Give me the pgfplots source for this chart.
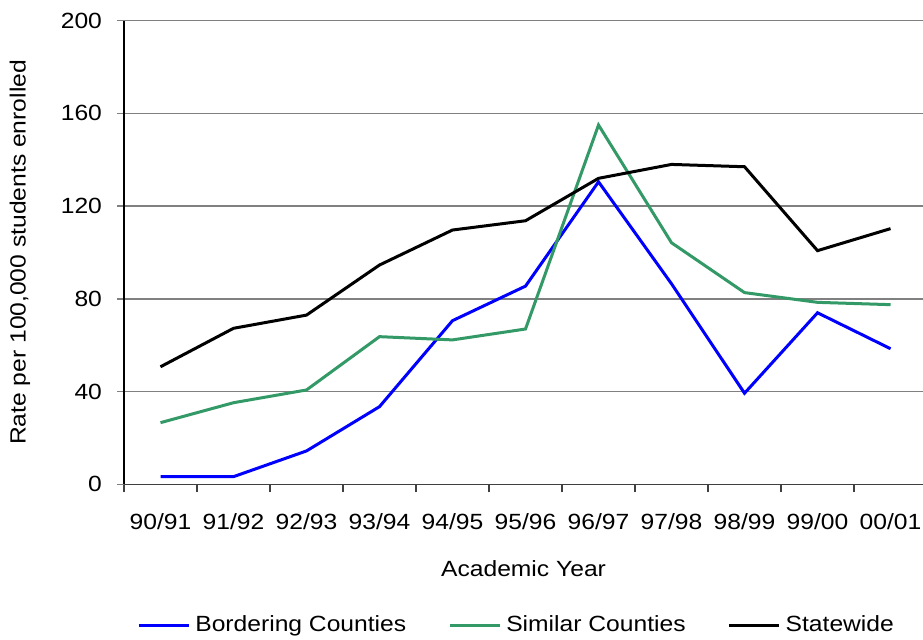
\documentclass[border=0pt]{standalone}
\usepackage{pgfplots}
\pgfplotsset{compat=1.18}
\usepackage{fontspec}
\setmainfont[FakeStretch=1.12]{Liberation Sans}
\definecolor{simgreen}{RGB}{51,153,102}
\definecolor{gridgray}{RGB}{128,128,128}
\begin{document}
\begin{tikzpicture}
\begin{axis}[
  scale only axis,
  width=399.5pt, height=231.8pt,
  xmin=-0.5, xmax=10.445,
  ymin=0, ymax=200,
  axis x line*=bottom,
  axis y line*=left,
  x axis line style={draw=black!75, line width=0.8pt},
  y axis line style={draw=black, line width=0.6pt},
  xtick={0,...,10},
  xticklabels={90/91,91/92,92/93,93/94,94/95,95/96,96/97,97/98,98/99,99/00,00/01},
  minor xtick={-0.5,0.5,...,9.5},
  xtick style={draw=none},
  minor tick length=4pt,
  major tick length=3.5pt,
  tick align=outside,
  minor x tick style={draw=black!75, line width=0.6pt},
  ytick={0,40,...,200},
  ytick style={draw=gridgray, line width=0.7pt},
  ymajorgrids,
  grid style={draw=gridgray, line width=0.7pt},
  /pgf/number format/assume math mode=true,
  font=\fontsize{11pt}{13pt}\selectfont,
  xticklabel style={anchor=center, yshift=-15pt},
  yticklabel style={anchor=east, xshift=-4pt},
  xlabel={Academic Year},
  ylabel={Rate per 100,000 students enrolled},
  every axis x label/.style={at={(axis description cs:0.5,-0.181)}, anchor=center},
  every axis y label/.style={at={(axis description cs:-0.1302,0.5)}, anchor=center, rotate=90},
  legend columns=3,
  legend style={at={(axis description cs:0.492,-0.304)}, anchor=center, draw=none, fill=none,
    /tikz/every odd column/.append style={column sep=1pt},
    /tikz/every even column/.append style={column sep=19.5pt},
    nodes={inner sep=1.5pt}},
  legend image code/.code={\draw[#1] (0pt,0pt) -- (25pt,0pt);},
  clip=false,
]
\addplot[color=blue, line width=1.5pt] coordinates {
(0,3.3) (1,3.3) (2,14.4) (3,33.5) (4,70.6) (5,85.5) (6,130.5) (7,86.5) (8,39.3) (9,74.0) (10,58.5)};
\addlegendentry{Bordering Counties}
\addplot[color=simgreen, line width=1.5pt] coordinates {
(0,26.6) (1,35.2) (2,40.7) (3,63.7) (4,62.3) (5,67.0) (6,155.0) (7,104.2) (8,82.7) (9,78.5) (10,77.5)};
\addlegendentry{Similar Counties}
\addplot[color=black, line width=1.5pt] coordinates {
(0,50.7) (1,67.3) (2,73.0) (3,94.6) (4,109.7) (5,113.7) (6,132.0) (7,138.0) (8,137.0) (9,100.8) (10,110.3)};
\addlegendentry{Statewide}
\end{axis}
\pgfresetboundingbox
\path ([shift={(-62pt,-77.35pt)}]current axis.south west) rectangle ([shift={(0pt,10.35pt)}]current axis.north east);
\end{tikzpicture}
\end{document}
